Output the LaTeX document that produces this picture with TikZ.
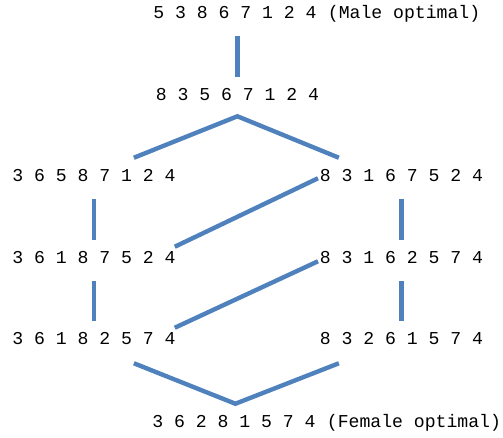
\documentclass[tikz,border=0pt]{standalone}
\usepackage{fontspec}
\setmonofont{Liberation Mono}
\usepackage{tikz}
\usetikzlibrary{calc,positioning}
\definecolor{lineblue}{RGB}{79,129,189}

\begin{document}
\begin{tikzpicture}[x=0.75pt,y=-0.75pt,
  perm/.style={inner sep=0pt,anchor=base west,font=\ttfamily\fontsize{13.6}{16}\selectfont,text height=8.25pt,text depth=0pt},
  note/.style={inner sep=0pt,font=\ttfamily\fontsize{13.6}{16}\selectfont,text height=8.25pt,text depth=0pt},
  link/.style={draw=lineblue,line width=3.3pt},
  vlink/.style={link,shorten <=13.5pt,shorten >=9pt}]
  \useasboundingbox (0,0) rectangle (503,437);
  \node[perm,label={[note,label distance=8.16pt]right:(Male optimal)}] (male) at (153,18) {5 3 8 6 7 1 2 4};
  \node[perm] (mid) at (155.5,100) {8 3 5 6 7 1 2 4};
  \node[perm] (l1) at (12,181) {3 6 5 8 7 1 2 4};
  \node[perm] (r1) at (319.5,181) {8 3 1 6 7 5 2 4};
  \node[perm] (l2) at (12,263) {3 6 1 8 7 5 2 4};
  \node[perm] (r2) at (319.5,263) {8 3 1 6 2 5 7 4};
  \node[perm] (l3) at (12,344) {3 6 1 8 2 5 7 4};
  \node[perm] (r3) at (319.5,344) {8 3 2 6 1 5 7 4};
  \node[perm,label={[note,label distance=8.16pt]right:(Female optimal)}] (female) at (152,427) {3 6 2 8 1 5 7 4};
  \coordinate (top) at ($(mid.south)+(0,16)$);
  \coordinate (bot) at ($(female.north)+(1.5,-12)$);
  % male -> middle
  \draw[vlink] (male.south -| mid.north) -- (mid.north);
  \draw[link] ($(l1.north)+(40,-12)$) -- (top) -- ($(r1.north)+(-62.5,-12)$);
  % the two chains
  \draw[vlink] (l1) -- (l2);
  \draw[vlink] (l2) -- (l3);
  \draw[vlink] (r1) -- (r2);
  \draw[vlink] (r2) -- (r3);
  \draw[link] ($(l2.north east)+(-1,-5)$) -- ($(r1.south west)+(-1.5,-3)$);
  \draw[link] ($(l3.north east)+(-1,-5)$) -- ($(r2.south west)+(-1.5,-2)$);
  % down to female
  \draw[link] ($(l3.south)+(40,19)$) -- (bot) -- ($(r3.south)+(-62.5,19)$);
\end{tikzpicture}
\end{document}
